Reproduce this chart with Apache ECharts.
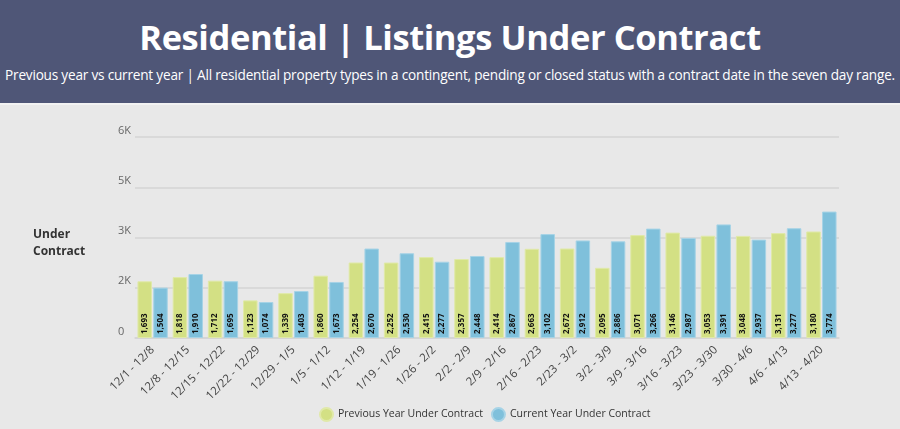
<!DOCTYPE html>
<html>
<head>
<meta charset="utf-8">
<script src="https://cdn.jsdelivr.net/npm/echarts@6/dist/echarts.min.js"></script>
<style>
    html,body{margin:0;padding:0;background:#e8e8e8;}
    #header{width:900px;height:105px;background:#4f5677;color:#fff;text-align:center;font-family:"Open Sans","Noto Sans",sans-serif;border-bottom:2px solid #f2f2f2;box-sizing:border-box;}
    #header h1{margin:0;padding-top:12px;font-size:34.5px;font-weight:700;line-height:50px;letter-spacing:-0.4px;}
    #header p{margin:0;padding-top:4px;font-size:13.6px;line-height:18px;letter-spacing:-0.2px;white-space:nowrap;}
    #chartBox{width:900px;height:324px;}
</style>
</head>
<body>
<div id="header">
    <h1>Residential | Listings Under Contract</h1>
    <p>Previous year vs current year | All residential property types in a contingent, pending or closed status with a contract date in the seven day range.</p>
</div>
<div id="chartBox"></div>

<script>
    // 周区间
    var weeks = ["12/1 - 12/8","12/8 - 12/15","12/15 - 12/22","12/22 - 12/29","12/29 - 1/5","1/5 - 1/12","1/12 - 1/19","1/19 - 1/26","1/26 - 2/2","2/2 - 2/9",
        "2/9 - 2/16","2/16 - 2/23","2/23 - 3/2","3/2 - 3/9","3/9 - 3/16","3/16 - 3/23","3/23 - 3/30","3/30 - 4/6","4/6 - 4/13","4/13 - 4/20"];
    var prevYear = [1693,1818,1712,1123,1339,1860,2254,2252,2415,2357,2414,2663,2672,2095,3071,3146,3053,3048,3131,3180];
    var currYear = [1504,1910,1695,1074,1403,1673,2670,2530,2277,2448,2867,3102,2912,2886,3266,2987,3391,2937,3277,3774];
    var yTicks = ["0","2K","3K","5K","6K"];

    var chart = echarts.init(document.getElementById("chartBox"));

    function barLabel(){
        return {
            show: true,
            position: "insideBottom",
            rotate: 90,
            align: "left",
            verticalAlign: "middle",
            distance: 4,
            color: "#111",
            fontSize: 8,
            fontWeight: "bold",
            fontFamily: "Open Sans",
            formatter: function(p){ return p.value.toLocaleString("en-US"); }
        };
    }

    var option = {
        backgroundColor: "#e8e8e8",
        textStyle: {fontFamily: "Open Sans"},
        graphic: [{
            type: "text",
            left: 33,
            top: 121,
            style: {text: "Under\nContract", font: "bold 12px 'Open Sans'", fill: "#333", lineHeight: 17}
        }],
        grid: {left: 135, right: 61, top: 32, bottom: 91},
        legend: {
            left: 314,
            bottom: 2,
            icon: "circle",
            itemWidth: 13,
            itemHeight: 13,
            itemGap: 8,
            textStyle: {color: "#333", fontSize: 10.5},
            data: ["Previous Year Under Contract","Current Year Under Contract"]
        },
        xAxis: {
            type: "category",
            data: weeks,
            axisLine: {lineStyle: {color: "#d4d4d4", width: 1.5}},
            axisTick: {show: false},
            axisLabel: {rotate: 45, color: "#444", fontSize: 11.5, margin: 10, interval: 0}
        },
        yAxis: {
            type: "value",
            min: 0,
            max: 6000,
            interval: 1500,
            splitLine: {lineStyle: {color: "#d4d4d4", width: 1.5}},
            axisLine: {show: false},
            axisTick: {show: false},
            axisLabel: {
                color: "#666",
                fontSize: 11,
                align: "left",
                verticalAlign: "bottom",
                margin: 17,
                padding: [0,0,1,0],
                formatter: function(v){ return yTicks[Math.round(v/1500)]; }
            }
        },
        series: [{
            name: "Previous Year Under Contract",
            type: "bar",
            data: prevYear,
            barGap: "9%",
            barCategoryGap: "14%",
            itemStyle: {color: "#d3e084", borderColor: "#e0e9a8", borderWidth: 1},
            label: barLabel()
        },{
            name: "Current Year Under Contract",
            type: "bar",
            data: currYear,
            itemStyle: {color: "#7fc0db", borderColor: "#a6d3e6", borderWidth: 1},
            label: barLabel()
        }]
    };
    chart.setOption(option);
</script>
</body>
</html>
